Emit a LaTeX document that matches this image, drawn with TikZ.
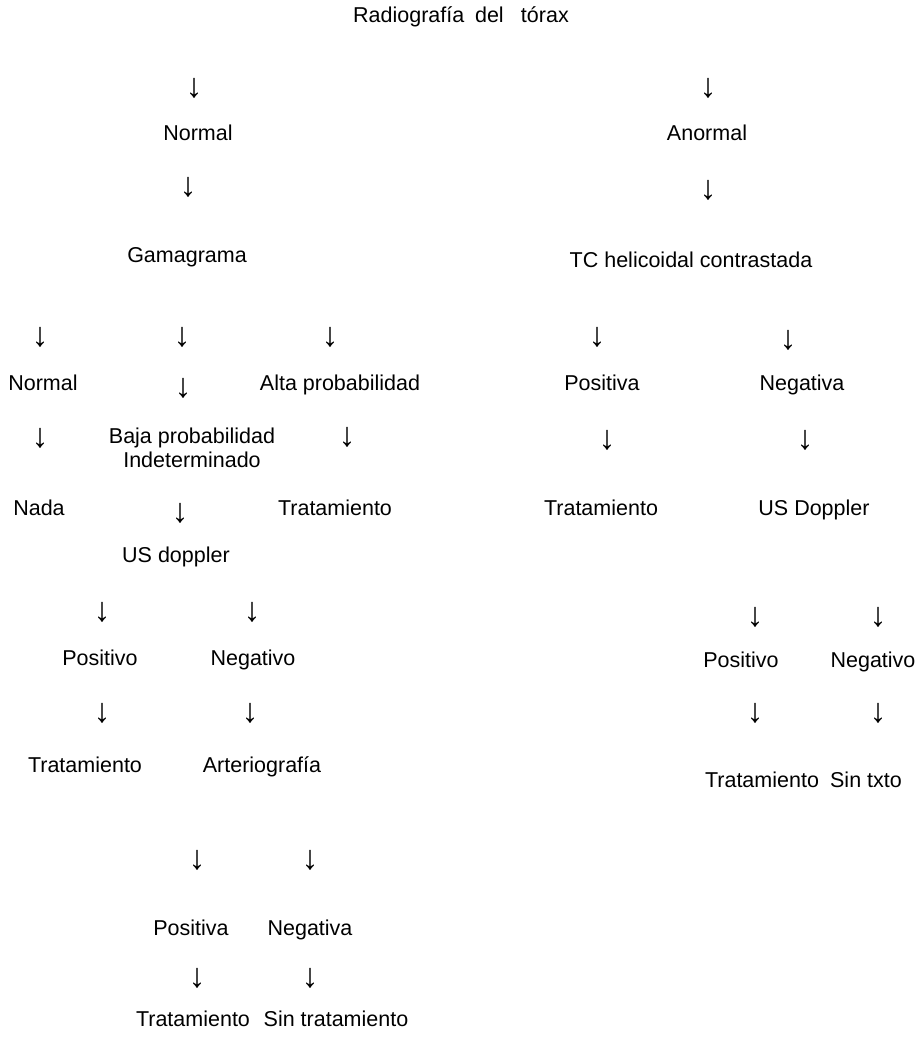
\documentclass[tikz,border=0pt]{standalone}
\usepackage{fontspec}
\setmainfont{Liberation Sans}
\begin{document}
\begin{tikzpicture}[x=1pt,y=-1pt,
  lbl/.style={font=\fontsize{21.5}{24}\selectfont, inner sep=0pt, anchor=mid},
  arr/.style={font=\fontsize{34}{36}\selectfont, inner sep=0pt, anchor=center}]
\useasboundingbox[fill=white] (0,0) rectangle (923,1047);
% title
\node[lbl] (title) at (461,20) {Radiografía\hspace{0.5em}del\hspace{0.8em}tórax};
% left/right first arrows
\node[arr] (aL1) at (194,88) {↓};
\node[arr] (aR1) at (708,88) {↓};
\node[lbl] (nL) at (198,138) {Normal};
\node[lbl] (anR) at (707,138) {Anormal};
\node[arr] (aL2) at (188,187) {↓};
\node[arr] (aR2) at (708,190) {↓};
\node[lbl] (gam) at (187,260) {Gamagrama};
\node[lbl] (tc) at (691,265) {TC helicoidal contrastada};
% gamagrama branches
\node[arr] (aG1) at (40,337) {↓};
\node[arr] (aG2) at (182,337) {↓};
\node[arr] (aG3) at (330,337) {↓};
\node[arr] (aT1) at (597,337) {↓};
\node[arr] (aT2) at (788,340) {↓};
\node[lbl] (gN) at (43,388) {Normal};
\node[arr] (aG2b) at (183,388) {↓};
\node[lbl] (alta) at (340,388) {Alta probabilidad};
\node[lbl] (tcP) at (602,388) {Positiva};
\node[lbl] (tcN) at (802,388) {Negativa};
\node[arr] (aG1b) at (40,438) {↓};
\node[font=\fontsize{21.5}{24}\selectfont, inner sep=0pt, align=center] (baja) at (192,448) {Baja probabilidad\\Indeterminado};
\node[arr] (aG3b) at (347,437) {↓};
\node[arr] (aT1b) at (607,440) {↓};
\node[arr] (aT2b) at (805,440) {↓};
\node[lbl] (nada) at (39,513) {Nada};
\node[arr] (aG2c) at (180,513) {↓};
\node[lbl] (tratA) at (335,513) {Tratamiento};
\node[lbl] (tratT) at (601,513) {Tratamiento};
\node[lbl] (usD) at (814,513) {US Doppler};
\node[lbl] (usd) at (176,560) {US doppler};
\node[arr] (aU1) at (102,612) {↓};
\node[arr] (aU2) at (252,612) {↓};
\node[arr] (aD1) at (755,617) {↓};
\node[arr] (aD2) at (878,617) {↓};
\node[lbl] (uP) at (100,663) {Positivo};
\node[lbl] (uN) at (253,663) {Negativo};
\node[lbl] (dP) at (741,665) {Positivo};
\node[lbl] (dN) at (873,665) {Negativo};
\node[arr] (aU1b) at (102,713) {↓};
\node[arr] (aU2b) at (250,713) {↓};
\node[arr] (aD1b) at (755,713) {↓};
\node[arr] (aD2b) at (878,713) {↓};
\node[lbl] (uT) at (85,770) {Tratamiento};
\node[lbl] (art) at (262,770) {Arteriografía};
\node[lbl] (dT) at (762,785) {Tratamiento};
\node[lbl] (dS) at (866,785) {Sin txto};
\node[arr] (aA1) at (197,860) {↓};
\node[arr] (aA2) at (310,860) {↓};
\node[lbl] (aP) at (191,933) {Positiva};
\node[lbl] (aN) at (310,933) {Negativa};
\node[arr] (aA1b) at (197,978) {↓};
\node[arr] (aA2b) at (310,978) {↓};
\node[lbl] (fT) at (193,1024) {Tratamiento};
\node[lbl] (fS) at (336,1024) {Sin tratamiento};
\end{tikzpicture}
\end{document}
